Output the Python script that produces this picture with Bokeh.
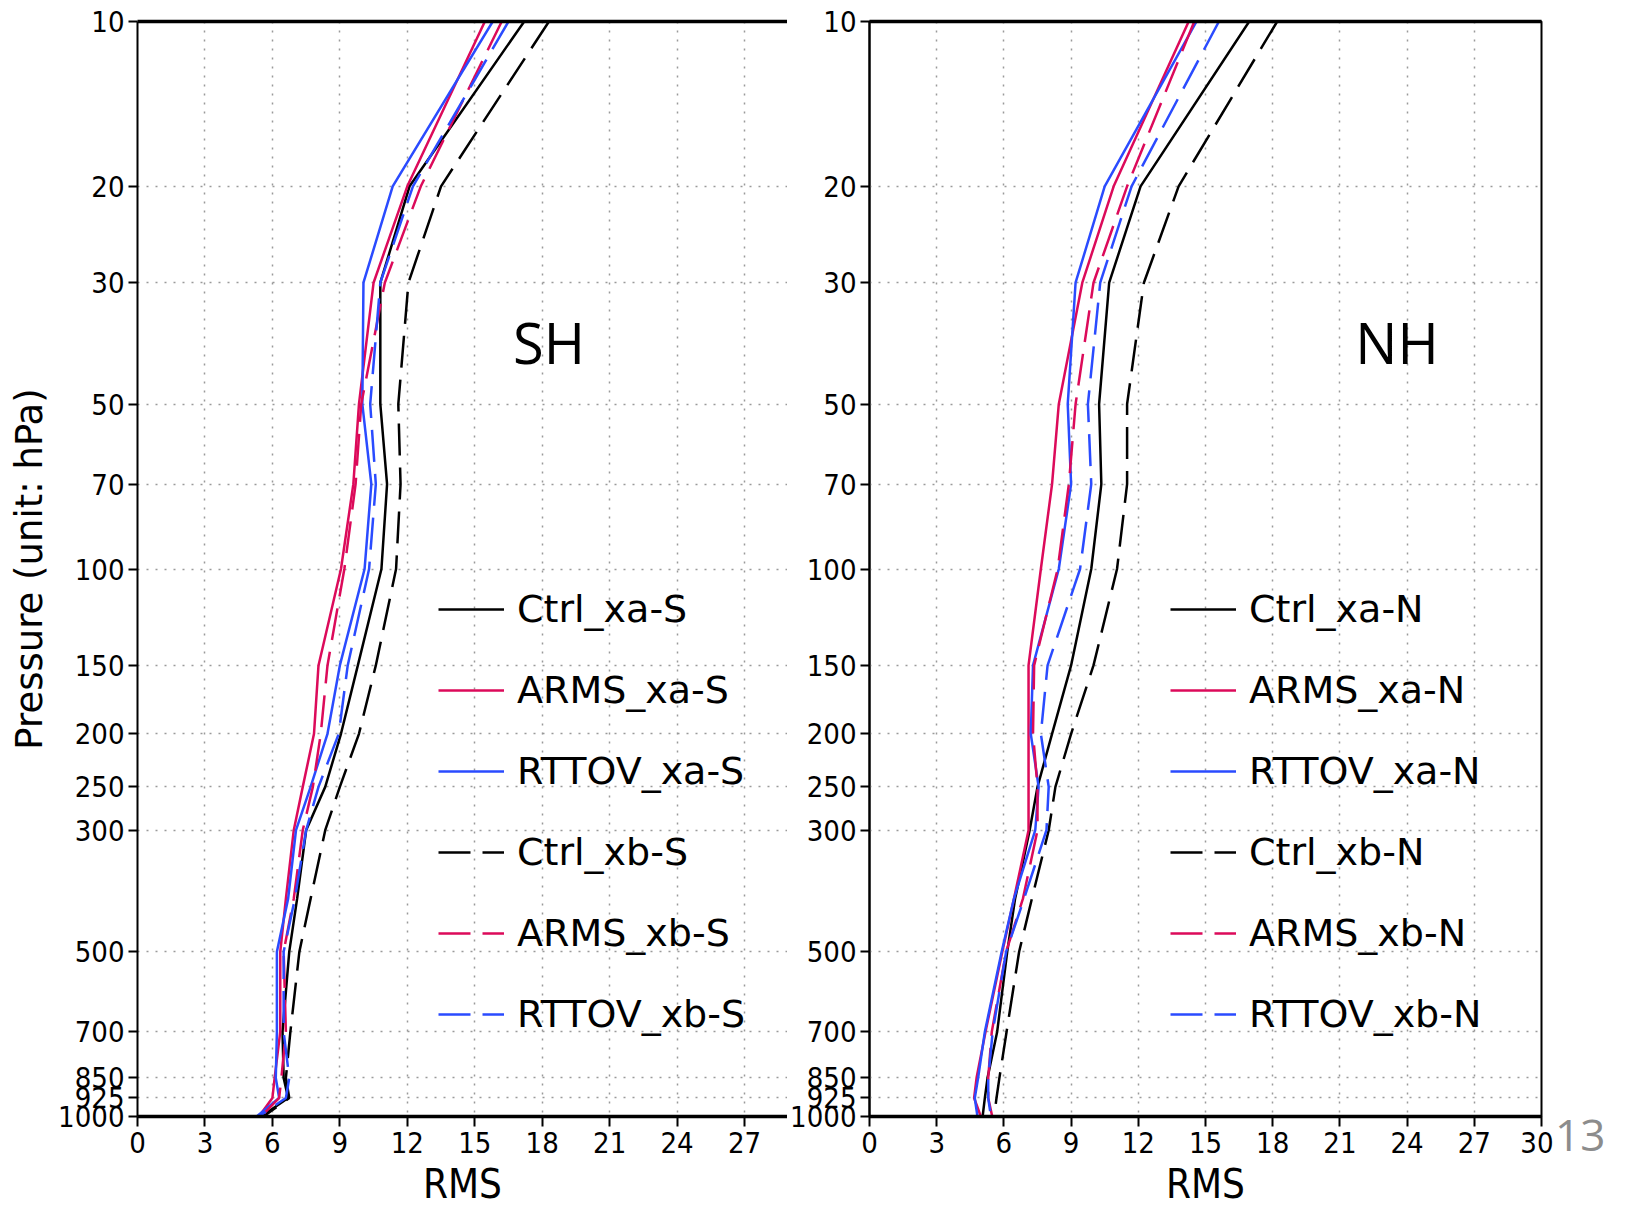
from bokeh.plotting import figure
from bokeh.models import Range1d, FixedTicker, LinearAxis, Legend, LegendItem, Label, Div
from bokeh.layouts import row
from bokeh.embed import file_html
from bokeh.resources import INLINE

# ---------------- data ----------------
levels = [10, 20, 30, 50, 70, 100, 150, 200, 250, 300, 400, 500, 700, 850, 925, 1000]
y_tick_levels = [10, 20, 30, 50, 70, 100, 150, 200, 250, 300, 500, 700, 850, 925, 1000]
y_tick_labels = ["10", "20", "30", "50", "70", "100", "150", "200", "250", "300",
                 "500", "700", "850", "925", "1000"]
x_ticks = [0, 3, 6, 9, 12, 15, 18, 21, 24, 27, 30]

names_s = ["Ctrl_xa-S", "ARMS_xa-S", "RTTOV_xa-S", "Ctrl_xb-S", "ARMS_xb-S", "RTTOV_xb-S"]
names_n = ["Ctrl_xa-N", "ARMS_xa-N", "RTTOV_xa-N", "Ctrl_xb-N", "ARMS_xb-N", "RTTOV_xb-N"]

# Southern hemisphere RMS
ctrl_xa_s  = [17.2, 12.1, 10.8, 10.8, 11.1, 10.85, 9.8, 9.05, 8.35, 7.5, 7.1, 6.75, 6.45, 6.5, 6.7, 5.5]
arms_xa_s  = [15.45, 12.0, 10.5, 9.85, 9.6, 9.05, 8.05, 7.85, 7.35, 6.95, 6.6, 6.35, 6.35, 6.1, 6.0, 5.4]
rttov_xa_s = [15.8, 11.35, 10.05, 10.0, 10.4, 10.1, 9.0, 8.45, 7.7, 7.05, 6.7, 6.2, 6.2, 6.15, 6.3, 5.3]
ctrl_xb_s  = [18.3, 13.5, 12.05, 11.6, 11.7, 11.5, 10.6, 9.85, 9.0, 8.35, 7.7, 7.2, 6.8, 6.6, 6.75, 5.6]
arms_xb_s  = [16.2, 12.6, 11.0, 9.95, 9.7, 9.2, 8.45, 8.15, 7.8, 7.35, 6.95, 6.5, 6.6, 6.4, 6.3, 5.5]
rttov_xb_s = [16.5, 12.25, 10.8, 10.35, 10.6, 10.3, 9.35, 8.95, 8.05, 7.5, 7.0, 6.5, 6.5, 6.75, 6.6, 5.4]

# Northern hemisphere RMS
ctrl_xa_n  = [16.95, 12.1, 10.7, 10.25, 10.35, 9.9, 9.0, 8.15, 7.5, 7.15, 6.5, 6.15, 5.7, 5.27, 5.15, 5.05]
arms_xa_n  = [14.25, 10.9, 9.5, 8.45, 8.15, 7.65, 7.1, 7.1, 7.1, 7.1, 6.45, 5.93, 5.18, 4.78, 4.67, 4.97]
rttov_xa_n = [14.6, 10.5, 9.2, 8.85, 9.0, 8.45, 7.3, 7.2, 7.55, 7.4, 6.45, 5.9, 5.15, 4.85, 4.7, 4.82]
ctrl_xb_n  = [18.2, 13.8, 12.25, 11.5, 11.5, 11.05, 10.0, 9.0, 8.3, 8.0, 7.25, 6.68, 6.12, 5.8, 5.67, 5.57]
arms_xb_n  = [14.5, 11.5, 10.0, 9.2, 8.9, 8.4, 7.35, 7.3, 7.5, 7.5, 6.85, 6.1, 5.46, 5.3, 5.3, 5.48]
rttov_xb_n = [15.6, 11.7, 10.3, 9.75, 9.9, 9.4, 7.95, 7.65, 8.0, 7.9, 6.9, 6.1, 5.5, 5.3, 5.3, 5.42]

series_s = [ctrl_xa_s, arms_xa_s, rttov_xa_s, ctrl_xb_s, arms_xb_s, rttov_xb_s]
series_n = [ctrl_xa_n, arms_xa_n, rttov_xa_n, ctrl_xb_n, arms_xb_n, rttov_xb_n]

page_number = "13"

# ---------------- style ----------------
BLACK = "#000000"
RED = "#DC0A5A"
BLUE = "#2A4BFF"
colors = [BLACK, RED, BLUE, BLACK, RED, BLUE]
dashes = ["solid", "solid", "solid", "32 12", "32 12", "32 12"]

NARROW = ("Noto Sans ExtraCondensed, Noto Sans Condensed, Liberation Sans Narrow, "
          "DejaVu Sans Condensed, Liberation Sans, sans-serif")
LEGEND_FONT = "DejaVu Sans"
TITLE_FONT = "DejaVu Sans"
BIG_FONT = "Open Sans"


def make_panel(series, names, x_end, hemi_label, hemi_x, left, border_left, border_right,
               frame_w, with_outline):
    p = figure(
        output_backend="svg", toolbar_location=None,
        x_range=Range1d(0, x_end), y_range=Range1d(1000, 10), y_axis_type="log",
        frame_width=frame_w, frame_height=1095,
        min_border_left=border_left, min_border_right=border_right,
        min_border_top=21, min_border_bottom=93,
        background_fill_color="white", border_fill_color="white",
    )
    if with_outline:
        p.outline_line_color = BLACK
        p.outline_line_width = 2
    else:
        p.outline_line_color = None

    # grid
    for g in (p.xgrid, p.ygrid):
        g.grid_line_color = "#9a9a9a"
        g.grid_line_dash = "2 7"
        g.grid_line_width = 1.5
    p.xgrid.ticker = FixedTicker(ticks=x_ticks)
    p.ygrid.ticker = FixedTicker(ticks=y_tick_levels)

    # axes
    p.yaxis.ticker = FixedTicker(ticks=y_tick_levels)
    p.yaxis.major_label_overrides = {v: s for v, s in zip(y_tick_levels, y_tick_labels)}
    p.xaxis.ticker = FixedTicker(ticks=x_ticks)
    p.xaxis.major_label_overrides = {v: str(v) for v in x_ticks}
    for ax in (p.xaxis, p.yaxis):
        ax.axis_line_color = BLACK
        ax.major_tick_line_color = BLACK
        ax.major_tick_line_width = 2
        ax.minor_tick_line_color = None
        ax.major_tick_in = 0
        ax.major_label_text_font = NARROW
        ax.major_label_text_font_size = "29px"
        ax.major_label_text_color = BLACK
        ax.axis_label_text_font_style = "normal"
        ax.axis_label_text_color = BLACK
    p.yaxis.axis_line_width = 2
    p.yaxis.major_tick_out = 9
    p.yaxis.major_label_standoff = 4
    p.xaxis.axis_line_width = 3.5
    p.xaxis.major_tick_out = 10
    p.xaxis.major_label_standoff = 5
    p.xaxis.axis_label = "RMS"
    p.xaxis.axis_label_text_font = NARROW
    p.xaxis.axis_label_text_font_size = "40px"
    p.xaxis.axis_label_standoff = 5
    if left:
        p.yaxis.axis_label = "Pressure (unit: hPa)"
        p.yaxis.axis_label_text_font = TITLE_FONT
        p.yaxis.axis_label_text_font_size = "37px"
        p.yaxis.axis_label_standoff = 4

    # thick top border
    top = LinearAxis(axis_line_width=3.5, axis_line_color=BLACK,
                     major_tick_line_color=None, minor_tick_line_color=None,
                     major_label_text_font_size="0px", ticker=FixedTicker(ticks=[]))
    p.add_layout(top, "above")

    items = []
    for vals, name, c, d in zip(series, names, colors, dashes):
        r = p.line(vals, levels, line_color=c, line_width=2.5, line_dash=d)
        items.append(LegendItem(label=name, renderers=[r]))

    legend = Legend(items=items, location=(301, 80),
                    background_fill_alpha=0, border_line_color=None,
                    label_text_font=LEGEND_FONT, label_text_font_size="38px",
                    label_text_color=BLACK,
                    glyph_width=66, glyph_height=44, label_height=44,
                    spacing=37, padding=0, margin=0, label_standoff=13)
    p.add_layout(legend)

    p.add_layout(Label(x=hemi_x, y=38.5, text=hemi_label, text_align="center",
                       text_baseline="middle", text_font=BIG_FONT,
                       text_font_size="56px", text_color=BLACK))
    return p


p_left = make_panel(series_s, names_s, 28.91, "SH", 18.3, True, 137, 0, 650, False)
p_right = make_panel(series_n, names_n, 30, "NH", 23.55, False, 80, 12, 672, True)

num = Div(text=('<div style="margin-top:1112px;margin-left:2px;font-family:\'Open Sans\';'
                'font-size:44px;line-height:1;color:#8c8c8c">' + page_number + '</div>'),
          width=70, height=1170, margin=0)

layout = row(p_left, p_right, num, spacing=0)

open("out.html", "w").write(file_html(layout, INLINE))
